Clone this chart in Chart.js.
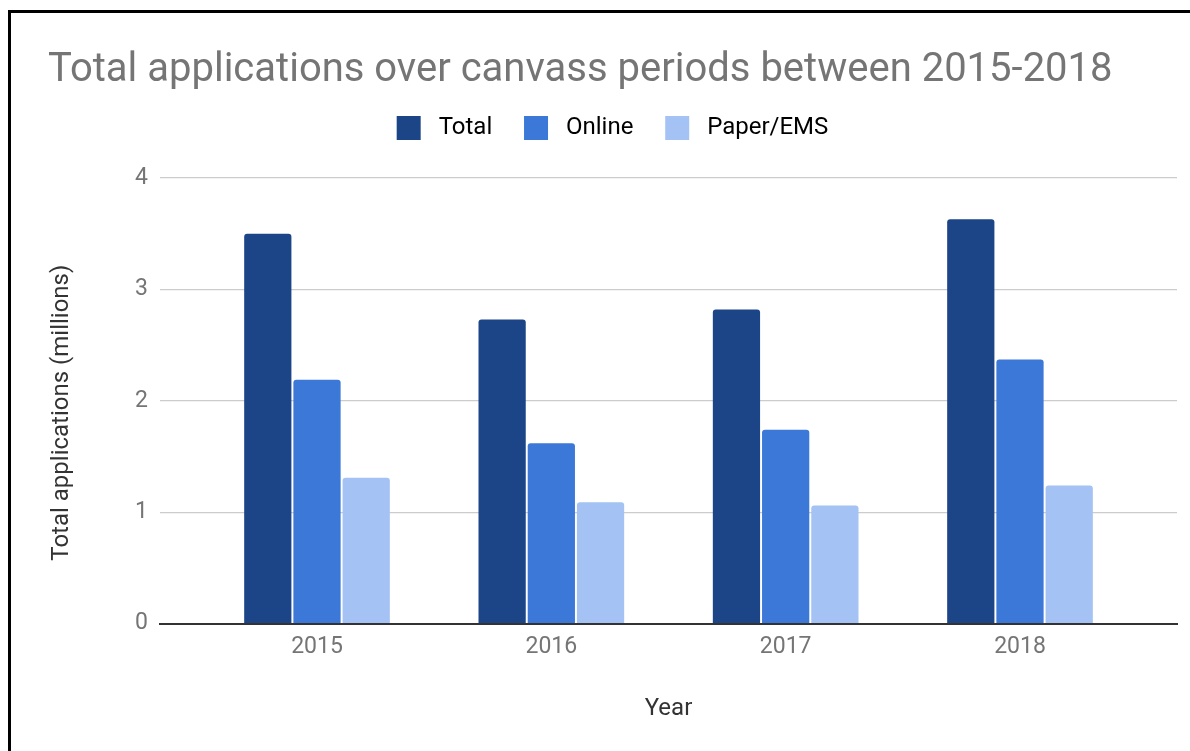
<!DOCTYPE html>
<html>
<head>
<meta charset="utf-8">
<script src="https://cdn.jsdelivr.net/npm/chart.js@4.4.1/dist/chart.umd.min.js"></script>
<style>
  html, body { margin: 0; padding: 0; background: #fff; }
  #wrap { position: relative; width: 1190px; height: 751px; overflow: hidden; }
  #frame { position: absolute; left: 8px; top: 10px; width: 1200px; height: 800px;
           border-left: 3px solid #000; border-top: 3px solid #000; pointer-events: none; }
  canvas { position: absolute; left: 0; top: 0; }
</style>
</head>
<body>
<div id="wrap">
  <canvas id="c" width="1190" height="751"></canvas>
  <div id="frame"></div>
</div>
<script>
const categories = ['2015', '2016', '2017', '2018'];
const totalValues = [3.50, 2.73, 2.82, 3.63];
const onlineValues = [2.19, 1.62, 1.74, 2.37];
const paperValues = [1.31, 1.09, 1.06, 1.24];
const yTicks = [0, 1, 2, 3, 4];

Chart.defaults.font.family = 'Roboto';

const toPoints = arr => arr.map((v, i) => ({ x: i, y: v }));

const legendSpacer = {
  id: 'legendSpacer',
  beforeInit(chart) {
    const orig = chart.legend.fit;
    chart.legend.fit = function () {
      orig.call(this);
      this.height += 28;
    };
  }
};

new Chart(document.getElementById('c'), {
  type: 'bar',
  data: {
    datasets: [
      { label: 'Total', data: toPoints(totalValues), backgroundColor: '#1c4587' },
      { label: 'Online', data: toPoints(onlineValues), backgroundColor: '#3c78d8' },
      { label: 'Paper/EMS', data: toPoints(paperValues), backgroundColor: '#a4c2f4' }
    ]
  },
  options: {
    responsive: false,
    animation: false,
    layout: { padding: { left: 48, right: 13, top: 0, bottom: 28 } },
    datasets: {
      bar: { categoryPercentage: 0.63, barPercentage: 0.96, borderRadius: 3, borderWidth: 0 }
    },
    plugins: {
      title: {
        display: true,
        text: 'Total applications over canvass periods between 2015-2018',
        align: 'start',
        color: '#757575',
        font: { size: 40, weight: 'normal' },
        padding: { top: 47, bottom: 13 }
      },
      legend: {
        position: 'top',
        align: 'center',
        labels: {
          boxWidth: 24,
          boxHeight: 24,
          padding: 8,
          color: '#6b6b6b',
          font: { size: 24 },
          useBorderRadius: true,
          borderRadius: 2,
          generateLabels(chart) {
            const ds = chart.data.datasets;
            return ds.map((d, i) => ({
              text: ' ' + d.label + (i < ds.length - 1 ? '    ' : ''),
              fillStyle: d.backgroundColor,
              strokeStyle: d.backgroundColor,
              lineWidth: 0,
              datasetIndex: i,
              hidden: false
            }));
          }
        }
      },
      tooltip: { enabled: false }
    },
    scales: {
      x: {
        type: 'linear',
        offset: false,
        min: -0.67,
        max: 3.67,
        afterBuildTicks(scale) {
          scale.ticks = categories.map((c, i) => ({ value: i }));
        },
        ticks: {
          color: '#757575',
          font: { size: 23 },
          padding: 10,
          callback: v => categories[v]
        },
        grid: { display: false, drawTicks: false },
        border: { color: '#333', width: 2 },
        title: {
          display: true,
          text: 'Year',
          color: '#333',
          font: { size: 24 },
          padding: { top: 23, bottom: 0 }
        }
      },
      y: {
        min: 0,
        max: 4,
        afterBuildTicks(scale) {
          scale.ticks = yTicks.map(v => ({ value: v }));
        },
        afterFit(scale) { scale.width = 112; },
        ticks: { color: '#757575', font: { size: 23 }, padding: 12 },
        grid: { color: '#cccccc', lineWidth: 1.2, drawTicks: false },
        border: { display: false },
        title: {
          display: true,
          text: 'Total applications (millions)    ',
          color: '#333',
          font: { size: 24 },
          padding: { top: 0, bottom: 0 }
        }
      }
    }
  },
  plugins: [legendSpacer]
});
</script>
</body>
</html>
